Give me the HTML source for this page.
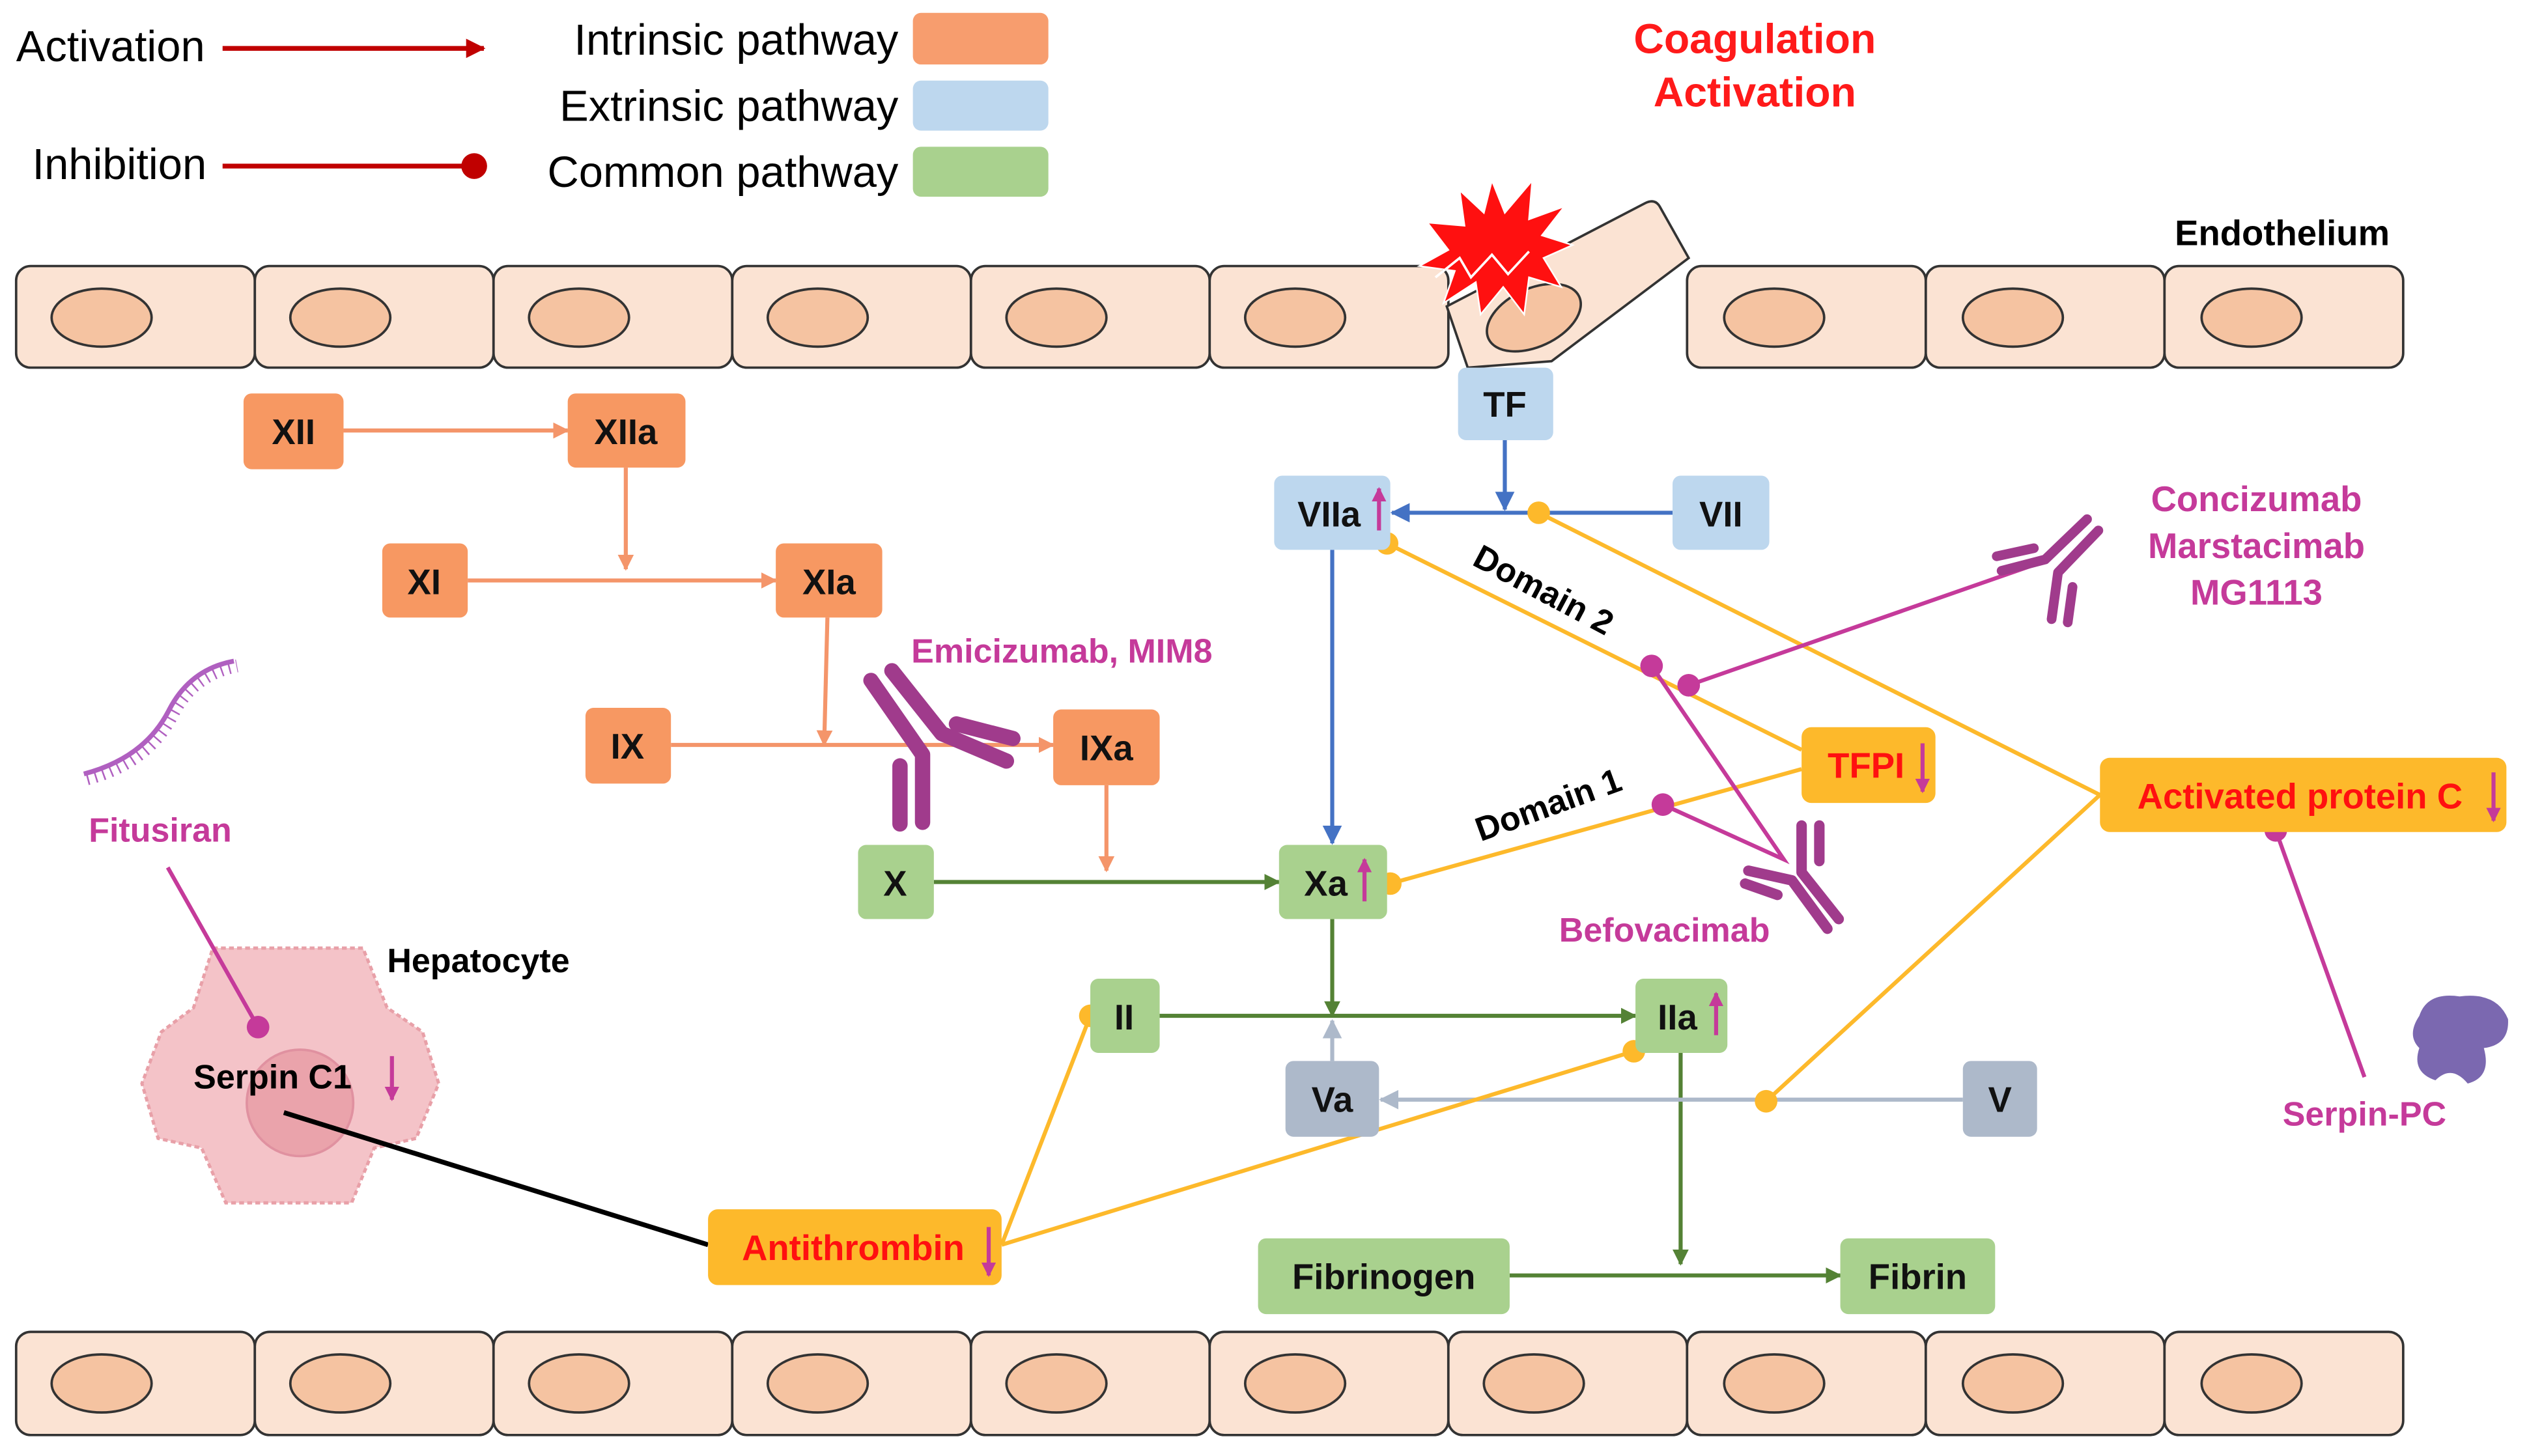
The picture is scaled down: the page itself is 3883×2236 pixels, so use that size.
<!DOCTYPE html>
<html><head><meta charset="utf-8"><style>
html,body{margin:0;padding:0;background:#fff;}
svg{display:block;}
text{font-family:"Liberation Sans",sans-serif;}
.n{font-weight:bold;font-size:22px;text-anchor:middle;dominant-baseline:central;fill:#111;}
</style></head><body>
<svg width="3883" height="2236" viewBox="0 0 1568 903" preserveAspectRatio="none" xmlns="http://www.w3.org/2000/svg">
<defs>
<marker id="ao" markerWidth="10" markerHeight="10" refX="9" refY="5" orient="auto" markerUnits="userSpaceOnUse"><path d="M0,0 L10,5 L0,10 z" fill="#f4956a"/></marker>
<marker id="ag" markerWidth="10" markerHeight="10" refX="9" refY="5" orient="auto" markerUnits="userSpaceOnUse"><path d="M0,0 L10,5 L0,10 z" fill="#548235"/></marker>
<marker id="ab" markerWidth="12" markerHeight="12" refX="11" refY="6" orient="auto" markerUnits="userSpaceOnUse"><path d="M0,0 L12,6 L0,12 z" fill="#4472c4"/></marker>
<marker id="agr" markerWidth="12" markerHeight="12" refX="11" refY="6" orient="auto" markerUnits="userSpaceOnUse"><path d="M0,0 L12,6 L0,12 z" fill="#adb9ca"/></marker>
<marker id="ar" markerWidth="12" markerHeight="12" refX="11" refY="6" orient="auto" markerUnits="userSpaceOnUse"><path d="M0,0 L12,6 L0,12 z" fill="#c00000"/></marker>
<marker id="am" markerWidth="9" markerHeight="9" refX="8" refY="4.5" orient="auto" markerUnits="userSpaceOnUse"><path d="M0,0 L9,4.5 L0,9 z" fill="#c53a9a"/></marker>
</defs>

<!-- legend -->
<text x="10" y="38" font-size="27">Activation</text>
<line x1="138" y1="30" x2="300" y2="30" stroke="#c00000" stroke-width="3" marker-end="url(#ar)"/>
<text x="20" y="111" font-size="27">Inhibition</text>
<line x1="138" y1="103" x2="290" y2="103" stroke="#c00000" stroke-width="3"/>
<circle cx="294" cy="103" r="8" fill="#c00000"/>
<text x="557" y="34" font-size="27" text-anchor="end">Intrinsic pathway</text>
<rect x="566" y="8" width="84" height="32" rx="5" fill="#f79d6e"/>
<text x="557" y="75" font-size="27" text-anchor="end">Extrinsic pathway</text>
<rect x="566" y="50" width="84" height="31" rx="5" fill="#bdd7ee"/>
<text x="557" y="116" font-size="27" text-anchor="end">Common pathway</text>
<rect x="566" y="91" width="84" height="31" rx="5" fill="#a9d18e"/>

<text x="1088" y="33" font-size="26" font-weight="bold" fill="#ff1a1a" text-anchor="middle">Coagulation</text>
<text x="1088" y="66" font-size="26" font-weight="bold" fill="#ff1a1a" text-anchor="middle">Activation</text>
<text x="1415" y="152" font-size="22" font-weight="bold" text-anchor="middle">Endothelium</text>

<!-- top endothelium -->
<g stroke="#333" stroke-width="1.5">
<rect x="10" y="165" width="148" height="63" rx="9" fill="#fbe3d3"/><ellipse cx="63" cy="197" rx="31" ry="18" fill="#f5c3a1"/>
<rect x="158" y="165" width="148" height="63" rx="9" fill="#fbe3d3"/><ellipse cx="211" cy="197" rx="31" ry="18" fill="#f5c3a1"/>
<rect x="306" y="165" width="148" height="63" rx="9" fill="#fbe3d3"/><ellipse cx="359" cy="197" rx="31" ry="18" fill="#f5c3a1"/>
<rect x="454" y="165" width="148" height="63" rx="9" fill="#fbe3d3"/><ellipse cx="507" cy="197" rx="31" ry="18" fill="#f5c3a1"/>
<rect x="602" y="165" width="148" height="63" rx="9" fill="#fbe3d3"/><ellipse cx="655" cy="197" rx="31" ry="18" fill="#f5c3a1"/>
<rect x="750" y="165" width="148" height="63" rx="9" fill="#fbe3d3"/><ellipse cx="803" cy="197" rx="31" ry="18" fill="#f5c3a1"/>
<path d="M897,190 L1020,126 Q1026,123 1029,128 L1047,160 L962,224 L910,228 Z" fill="#fbe3d3"/>
<ellipse cx="951" cy="197" rx="31" ry="18" fill="#f5c3a1" transform="rotate(-25 951 197)"/>
<rect x="1046" y="165" width="148" height="63" rx="9" fill="#fbe3d3"/><ellipse cx="1100" cy="197" rx="31" ry="18" fill="#f5c3a1"/>
<rect x="1194" y="165" width="148" height="63" rx="9" fill="#fbe3d3"/><ellipse cx="1248" cy="197" rx="31" ry="18" fill="#f5c3a1"/>
<rect x="1342" y="165" width="148" height="63" rx="9" fill="#fbe3d3"/><ellipse cx="1396" cy="197" rx="31" ry="18" fill="#f5c3a1"/>
</g>
<polygon points="925,112 933,132 950,112 948,136 970,128 956,146 975,152 957,160 968,178 948,172 945,195 932,178 918,195 915,175 895,188 902,168 880,165 898,155 885,138 908,140 905,118 920,132" fill="#ff1010" stroke="#fff" stroke-width="1"/>
<path d="M890,172 L905,160 L912,172 L925,158 L935,170 L948,156" stroke="#fff" stroke-width="1.5" fill="none"/>

<!-- bottom endothelium -->
<g stroke="#333" stroke-width="1.5" fill="#fbe3d3">
<rect x="10" y="826" width="148" height="64" rx="9"/><rect x="158" y="826" width="148" height="64" rx="9"/><rect x="306" y="826" width="148" height="64" rx="9"/><rect x="454" y="826" width="148" height="64" rx="9"/><rect x="602" y="826" width="148" height="64" rx="9"/><rect x="750" y="826" width="148" height="64" rx="9"/><rect x="898" y="826" width="148" height="64" rx="9"/><rect x="1046" y="826" width="148" height="64" rx="9"/><rect x="1194" y="826" width="148" height="64" rx="9"/><rect x="1342" y="826" width="148" height="64" rx="9"/>
</g>
<g stroke="#333" stroke-width="1.5" fill="#f5c3a1">
<ellipse cx="63" cy="858" rx="31" ry="18"/><ellipse cx="211" cy="858" rx="31" ry="18"/><ellipse cx="359" cy="858" rx="31" ry="18"/><ellipse cx="507" cy="858" rx="31" ry="18"/><ellipse cx="655" cy="858" rx="31" ry="18"/><ellipse cx="803" cy="858" rx="31" ry="18"/><ellipse cx="951" cy="858" rx="31" ry="18"/><ellipse cx="1100" cy="858" rx="31" ry="18"/><ellipse cx="1248" cy="858" rx="31" ry="18"/><ellipse cx="1396" cy="858" rx="31" ry="18"/>
</g>

<!-- hepatocyte -->
<path d="M132,588 L225,588 L240,625 L262,640 L272,672 L258,706 L232,712 L218,746 L140,746 L125,712 L98,706 L88,672 L100,640 L120,625 Z" fill="#f4c3c8" stroke="#e8a0a8" stroke-width="2" stroke-dasharray="3,2"/>
<circle cx="186" cy="684" r="33" fill="#eaa3ab" stroke="#e091a0" stroke-width="1.5"/>
<text x="240" y="603" font-size="21" font-weight="bold">Hepatocyte</text>
<text x="120" y="675" font-size="21" font-weight="bold">Serpin C1</text>
<line x1="243" y1="655" x2="243" y2="682" stroke="#c53a9a" stroke-width="2.5" marker-end="url(#am)"/>
<line x1="176" y1="690" x2="439" y2="772" stroke="#000" stroke-width="3"/>

<!-- fitusiran -->
<path d="M52,480 Q90,470 105,440 Q118,415 145,410" stroke="#b060c0" stroke-width="3" fill="none"/>
<path d="M52,480 Q90,470 105,440 Q118,415 145,410" stroke="#b060c0" stroke-width="8" fill="none" stroke-dasharray="1,4" transform="translate(2,3)"/>
<text x="55" y="522" font-size="21" font-weight="bold" fill="#c53a9a">Fitusiran</text>
<line x1="104" y1="538" x2="160" y2="637" stroke="#c53a9a" stroke-width="2.5"/>
<circle cx="160" cy="637" r="7" fill="#c53a9a"/>

<!-- intrinsic arrows -->
<g stroke="#f4956a" stroke-width="2.5" fill="none">
<line x1="213" y1="267" x2="352" y2="267" marker-end="url(#ao)"/>
<line x1="388" y1="290" x2="388" y2="353" marker-end="url(#ao)"/>
<line x1="290" y1="360" x2="481" y2="360" marker-end="url(#ao)"/>
<line x1="513" y1="383" x2="511" y2="462" marker-end="url(#ao)"/>
<line x1="416" y1="462" x2="653" y2="462" marker-end="url(#ao)"/>
<line x1="686" y1="487" x2="686" y2="540" marker-end="url(#ao)"/>
</g>
<!-- extrinsic -->
<g stroke="#4472c4" stroke-width="2.5" fill="none">
<line x1="933" y1="273" x2="933" y2="316" marker-end="url(#ab)"/>
<line x1="1037" y1="318" x2="863" y2="318" marker-end="url(#ab)"/>
<line x1="826" y1="341" x2="826" y2="523" marker-end="url(#ab)"/>
</g>
<!-- common -->
<g stroke="#548235" stroke-width="2.5" fill="none">
<line x1="579" y1="547" x2="793" y2="547" marker-end="url(#ag)"/>
<line x1="826" y1="570" x2="826" y2="630" marker-end="url(#ag)"/>
<line x1="719" y1="630" x2="1014" y2="630" marker-end="url(#ag)"/>
<line x1="1042" y1="653" x2="1042" y2="784" marker-end="url(#ag)"/>
<line x1="936" y1="791" x2="1141" y2="791" marker-end="url(#ag)"/>
</g>
<g stroke="#adb9ca" stroke-width="2.5" fill="none">
<line x1="826" y1="658" x2="826" y2="633" marker-end="url(#agr)"/>
<line x1="1217" y1="682" x2="856" y2="682" marker-end="url(#agr)"/>
</g>

<!-- yellow inhibition lines -->
<g stroke="#fdb92b" stroke-width="2.5" fill="none">
<line x1="954" y1="318" x2="1302" y2="493"/>
<line x1="860" y1="337" x2="1117" y2="465"/>
<line x1="862" y1="548" x2="1117" y2="477"/>
<line x1="1302" y1="493" x2="1095" y2="683"/>
<line x1="621" y1="772" x2="676" y2="630"/>
<line x1="621" y1="772" x2="1013" y2="652"/>
</g>
<g fill="#fdb92b">
<circle cx="954" cy="318" r="7"/><circle cx="860" cy="337" r="7"/><circle cx="862" cy="548" r="7"/><circle cx="1095" cy="683" r="7"/><circle cx="676" cy="630" r="7"/><circle cx="1013" cy="652" r="7"/>
</g>

<!-- magenta lines -->
<g stroke="#c53a9a" stroke-width="2.5" fill="none">
<line x1="1047" y1="425" x2="1262" y2="350"/>
<polyline points="1024,413 1106,533 1031,499"/>
<line x1="1411" y1="515" x2="1466" y2="668"/>
</g>
<g fill="#c53a9a">
<circle cx="1024" cy="413" r="7"/><circle cx="1047" cy="425" r="7"/><circle cx="1031" cy="499" r="7"/><circle cx="1411" cy="515" r="7"/>
</g>

<!-- antibodies -->
<g stroke="#a03b8c" stroke-linecap="round" stroke-linejoin="round" fill="none">
<g stroke-width="9.5">
<polyline points="540,422 572,468 572,510"/>
<polyline points="553,416 584,455 624,472"/>
<line x1="593" y1="449" x2="628" y2="458"/>
<line x1="558" y1="475" x2="558" y2="511"/>
</g>
<g stroke-width="6">
<polyline points="1294,322 1268,347 1241,354"/>
<polyline points="1301,329 1276,355 1272,384"/>
<line x1="1238" y1="345" x2="1261" y2="340"/>
<line x1="1285" y1="364" x2="1282" y2="386"/>
</g>
<g stroke-width="6.5">
<polyline points="1117,512 1117,541 1140,570"/>
<polyline points="1084,540 1111,546 1133,576"/>
<line x1="1128" y1="512" x2="1128" y2="534"/>
<line x1="1082" y1="548" x2="1102" y2="555"/>
</g>
</g>

<!-- serpin-pc blob -->
<path d="M1500,630 Q1505,615 1525,618 Q1548,615 1555,632 Q1556,648 1540,650 Q1545,668 1530,672 Q1520,660 1510,670 Q1495,665 1500,650 Q1492,642 1500,630 Z" fill="#7b68b0"/>

<!-- labels -->
<text x="565" y="411" font-size="21" font-weight="bold" fill="#c53a9a">Emicizumab, MIM8</text>
<text x="1399" y="317" font-size="22" font-weight="bold" fill="#c53a9a" text-anchor="middle">Concizumab</text>
<text x="1399" y="346" font-size="22" font-weight="bold" fill="#c53a9a" text-anchor="middle">Marstacimab</text>
<text x="1399" y="375" font-size="22" font-weight="bold" fill="#c53a9a" text-anchor="middle">MG1113</text>
<text x="1032" y="584" font-size="21" font-weight="bold" fill="#c53a9a" text-anchor="middle">Befovacimab</text>
<text x="1466" y="698" font-size="21" font-weight="bold" fill="#c53a9a" text-anchor="middle">Serpin-PC</text>
<text x="0" y="0" font-size="21" font-weight="bold" transform="translate(912,350) rotate(28)">Domain 2</text>
<text x="0" y="0" font-size="21" font-weight="bold" transform="translate(918,522) rotate(-20)">Domain 1</text>

<!-- nodes -->
<g>
<rect x="151" y="244" width="62" height="47" rx="5" fill="#f79862"/><text class="n" x="182" y="268">XII</text>
<rect x="352" y="244" width="73" height="46" rx="5" fill="#f79862"/><text class="n" x="388" y="268">XIIa</text>
<rect x="237" y="337" width="53" height="46" rx="5" fill="#f79862"/><text class="n" x="263" y="361">XI</text>
<rect x="481" y="337" width="66" height="46" rx="5" fill="#f79862"/><text class="n" x="514" y="361">XIa</text>
<rect x="363" y="439" width="53" height="47" rx="5" fill="#f79862"/><text class="n" x="389" y="463">IX</text>
<rect x="653" y="440" width="66" height="47" rx="5" fill="#f79862"/><text class="n" x="686" y="464">IXa</text>
<rect x="904" y="228" width="59" height="45" rx="5" fill="#bdd7ee"/><text class="n" x="933" y="251">TF</text>
<rect x="790" y="295" width="72" height="46" rx="5" fill="#bdd7ee"/><text class="n" x="824" y="319">VIIa</text>
<rect x="1037" y="295" width="60" height="46" rx="5" fill="#bdd7ee"/><text class="n" x="1067" y="319">VII</text>
<rect x="532" y="524" width="47" height="46" rx="5" fill="#a9d18e"/><text class="n" x="555" y="548">X</text>
<rect x="793" y="524" width="67" height="46" rx="5" fill="#a9d18e"/><text class="n" x="822" y="548">Xa</text>
<rect x="676" y="607" width="43" height="46" rx="5" fill="#a9d18e"/><text class="n" x="697" y="631">II</text>
<rect x="1014" y="607" width="57" height="46" rx="5" fill="#a9d18e"/><text class="n" x="1040" y="631">IIa</text>
<rect x="797" y="658" width="58" height="47" rx="5" fill="#adb9ca"/><text class="n" x="826" y="682">Va</text>
<rect x="1217" y="658" width="46" height="47" rx="5" fill="#adb9ca"/><text class="n" x="1240" y="682">V</text>
<rect x="780" y="768" width="156" height="47" rx="5" fill="#a9d18e"/><text class="n" x="858" y="792">Fibrinogen</text>
<rect x="1141" y="768" width="96" height="47" rx="5" fill="#a9d18e"/><text class="n" x="1189" y="792">Fibrin</text>
<rect x="1117" y="451" width="83" height="47" rx="6" fill="#fdb92b"/><text class="n" x="1157" y="475" style="fill:#ff1010">TFPI</text>
<rect x="1302" y="470" width="252" height="46" rx="6" fill="#fdb92b"/><text class="n" x="1426" y="494" style="fill:#ff1010">Activated protein C</text>
<rect x="439" y="750" width="182" height="47" rx="6" fill="#fdb92b"/><text class="n" x="529" y="774" style="fill:#ff1010">Antithrombin</text>
</g>
<!-- up/down arrows -->
<g stroke="#c53a9a" stroke-width="2.5">
<line x1="855" y1="329" x2="855" y2="303" marker-end="url(#am)"/>
<line x1="846" y1="559" x2="846" y2="533" marker-end="url(#am)"/>
<line x1="1064" y1="642" x2="1064" y2="616" marker-end="url(#am)"/>
<line x1="1192" y1="461" x2="1192" y2="491" marker-end="url(#am)"/>
<line x1="1546" y1="479" x2="1546" y2="509" marker-end="url(#am)"/>
<line x1="613" y1="761" x2="613" y2="791" marker-end="url(#am)"/>
</g>
</svg>
</body></html>
